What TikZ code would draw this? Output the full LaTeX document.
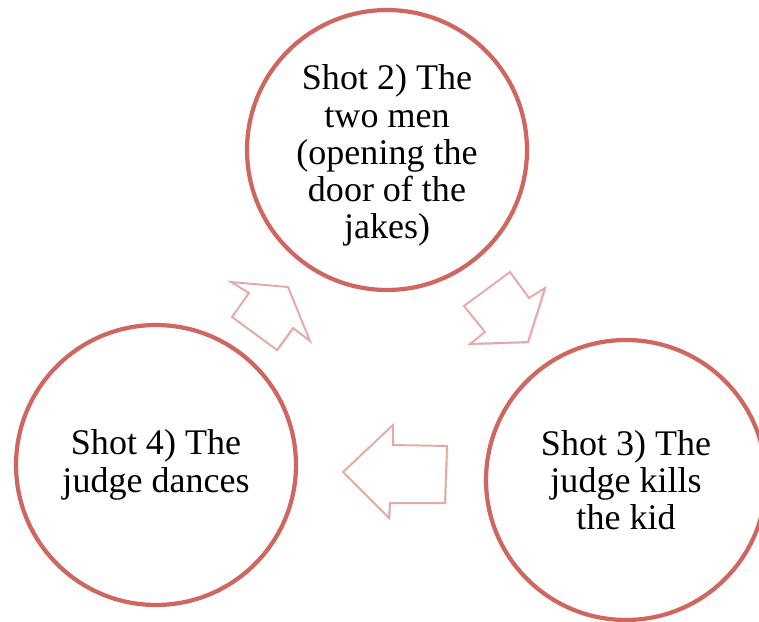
\documentclass[tikz,border=0pt]{standalone}
\usepackage{fontspec}
\setmainfont{Liberation Serif}
\usepackage{tikz}
\usetikzlibrary{shadows}
\definecolor{clRing}{HTML}{CF665F}
\definecolor{clArrow}{HTML}{E6A9A6}
\tikzset{
  shot/.style={circle, draw=clRing, line width=2.4pt, fill=white, minimum size=5.6cm,
               inner sep=0pt, align=center, text=black,
               font=\fontsize{20.5}{21.2}\selectfont},
  turn/.style={draw=clArrow, line width=1.1pt, fill=white, line join=miter,
               drop shadow={opacity=0.2, shadow xshift=0.8pt, shadow yshift=-0.8pt}},
}

\begin{document}
\begin{tikzpicture}[x=0.02cm, y=-0.02cm]
  \useasboundingbox (0,0) rectangle (759,621);
  \clip (0,0) rectangle (759,621);
  % shots
  \node[shot, text height=105.6pt] (s2) at (387,150) {Shot 2) The\\two men\\(opening the\\door of the\\jakes)};
  \node[shot] (s3) at (626,480) {Shot 3) The\\judge kills\\the kid};
  \node[shot] (s4) at (156,465) {Shot 4) The\\judge dances};
  % block arrows between shots
  \draw[turn] (288,287) -- (310,341) -- (293,328) -- (277,350) -- (232,317) -- (249,293) -- (231,282) -- cycle;
  \draw[turn] (528,342) -- (470,344) -- (485,332) -- (464,306) -- (510,272) -- (529,298) -- (545,288) -- cycle;
  \draw[turn] (343,472) -- (393,425) -- (393,445) -- (447,446) -- (445,503) -- (390,503) -- (389,518) -- cycle;
\end{tikzpicture}
\end{document}
